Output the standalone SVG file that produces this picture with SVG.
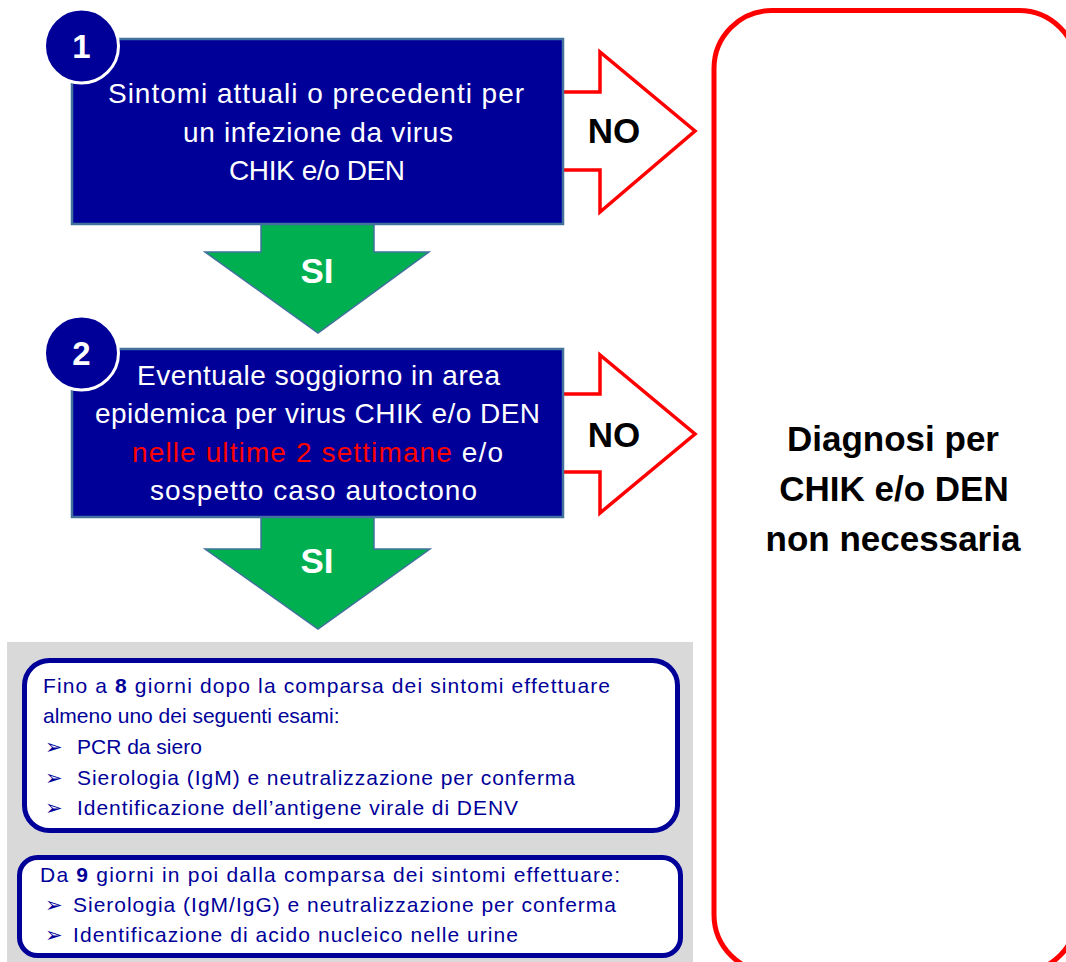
<svg xmlns="http://www.w3.org/2000/svg" width="1066" height="962" viewBox="0 0 1066 962">
<style>
  .box { fill: #000099; stroke: #41719C; stroke-width: 2.5; }
  .num { fill: #000099; stroke: #FFFFFF; stroke-width: 3; }
  .numt { font-family: "Liberation Sans", Arial, sans-serif; font-weight: bold; font-size: 33px; fill: #FFFFFF; text-anchor: middle; }
  .bt { font-family: "Liberation Sans", Arial, sans-serif; font-size: 28px; fill: #FFFFFF; text-anchor: middle; }
  .red { fill: #FF0000; }
  .no { fill: #FFFFFF; stroke: #FF0000; stroke-width: 3.5; stroke-linejoin: miter; }
  .si { fill: #00B050; stroke: #41719C; stroke-width: 1.5; }
  .lbl { font-family: "Liberation Sans", Arial, sans-serif; font-weight: bold; font-size: 35px; text-anchor: middle; }
  .it { font-family: "Liberation Sans", Arial, sans-serif; font-size: 21px; fill: #000099; }
  .ibox { fill: #FFFFFF; stroke: #000099; stroke-width: 5; }
  .dx { font-family: "Liberation Sans", Arial, sans-serif; font-weight: bold; font-size: 35px; fill: #000000; text-anchor: middle; }
</style>

<rect id="panel" x="7" y="642" width="686" height="330" fill="#D9D9D9"/>

<g id="connectors">
  <g id="no1">
    <path class="no" d="M563,92 H600 V52 L695,131 L600,212 V170 H563"/>
    <text class="lbl" x="614" y="143" fill="#000000">NO</text>
  </g>
  <g id="no2">
    <path class="no" d="M563,394 H600 V355 L695,434 L600,513 V472 H563"/>
    <text class="lbl" x="614" y="447" fill="#000000">NO</text>
  </g>
  <g id="si1">
    <path class="si" d="M261,224 H374 V252 H429 L318,333 L205,252 H261 Z"/>
    <text class="lbl" x="317" y="283" fill="#FFFFFF">SI</text>
  </g>
  <g id="si2">
    <path class="si" d="M261,517 H374 V549 H430 L318,629 L205,549 H261 Z"/>
    <text class="lbl" x="317" y="573" fill="#FFFFFF">SI</text>
  </g>
</g>

<g id="step1">
  <rect class="box" x="72" y="39" width="491" height="185"/>
  <text class="bt" x="316" y="103" textLength="416">Sintomi attuali o precedenti per</text>
  <text class="bt" x="318" y="142" textLength="270">un infezione da virus</text>
  <text class="bt" x="317" y="180" textLength="176">CHIK e/o DEN</text>
  <circle class="num" cx="81.5" cy="46" r="37"/>
  <text class="numt" x="81.5" y="58">1</text>
</g>

<g id="step2">
  <rect class="box" x="72" y="349" width="491" height="168"/>
  <text class="bt" x="318.5" y="385" textLength="363">Eventuale soggiorno in area</text>
  <text class="bt" x="317.5" y="423" textLength="445">epidemica per virus CHIK e/o DEN</text>
  <text class="bt" x="317.5" y="462" textLength="371"><tspan class="red">nelle ultime 2 settimane</tspan> e/o</text>
  <text class="bt" x="313.5" y="500" textLength="327">sospetto caso autoctono</text>
  <circle class="num" cx="81.5" cy="353" r="37"/>
  <text class="numt" x="81.5" y="365">2</text>
</g>

<g id="early">
  <rect class="ibox" x="24.5" y="660.5" width="653" height="170" rx="25"/>
  <text class="it" x="43" y="693" textLength="567">Fino a <tspan font-weight="bold">8</tspan> giorni dopo la comparsa dei sintomi effettuare</text>
  <text class="it" x="43" y="723">almeno uno dei seguenti esami:</text>
  <text class="it" x="45" y="754">➢</text>
  <text class="it" x="77" y="754">PCR da siero</text>
  <text class="it" x="45" y="785">➢</text>
  <text class="it" x="77" y="785" textLength="498">Sierologia (IgM) e neutralizzazione per conferma</text>
  <text class="it" x="45" y="815">➢</text>
  <text class="it" x="77" y="815" textLength="441">Identificazione dell’antigene virale di DENV</text>
</g>

<g id="late">
  <rect class="ibox" x="19.5" y="857.5" width="661" height="98" rx="18"/>
  <text class="it" x="40" y="882" textLength="580">Da <tspan font-weight="bold">9</tspan> giorni in poi dalla comparsa dei sintomi effettuare:</text>
  <text class="it" x="45" y="912">➢</text>
  <text class="it" x="73" y="912" textLength="543">Sierologia (IgM/IgG) e neutralizzazione per conferma</text>
  <text class="it" x="45" y="942">➢</text>
  <text class="it" x="73" y="942" textLength="445">Identificazione di acido nucleico nelle urine</text>
</g>

<g id="result">
  <rect x="714" y="10.5" width="363" height="962" rx="58" fill="#FFFFFF" stroke="#FF0000" stroke-width="5"/>
  <text class="dx" x="893" y="451">Diagnosi per</text>
  <text class="dx" x="894" y="501">CHIK e/o DEN</text>
  <text class="dx" x="893" y="551">non necessaria</text>
</g>
</svg>
